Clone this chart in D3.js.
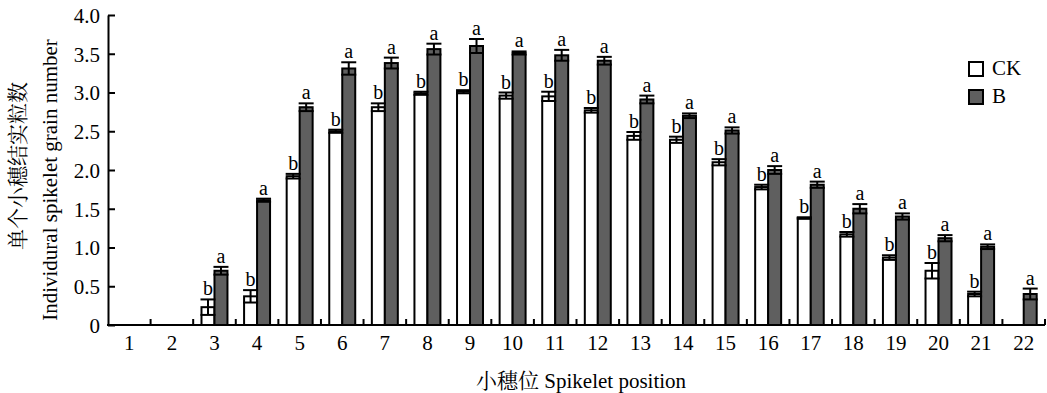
<!DOCTYPE html>
<html>
<head>
<meta charset="utf-8">
<script src="https://cdn.jsdelivr.net/npm/d3@7"></script>
<style>
  body { margin: 0; background: #fff; }
  svg text { font-family: "Liberation Serif", "Times New Roman", serif; fill: #000; }
  .cjk { font-family: "Noto Serif CJK SC", "Noto Sans CJK SC", serif; }
  .axis path, .axis line { stroke: #000; stroke-width: 2; }
</style>
</head>
<body>
<div id="chart"></div>
<script>
// data
const positions = ['1', '2', '3', '4', '5', '6', '7', '8', '9', '10', '11',
  '12', '13', '14', '15', '16', '17', '18', '19', '20', '21', '22'];
const ckMean = [0, 0, 0.23, 0.37, 1.92, 2.5, 2.81, 2.99, 3.01, 2.96, 2.95,
  2.77, 2.44, 2.39, 2.1, 1.78, 1.38, 1.17, 0.87, 0.7, 0.4, 0];
const ckErr = [0, 0, 0.1, 0.08, 0.03, 0.02, 0.05, 0.02, 0.02, 0.04, 0.06,
  0.03, 0.05, 0.04, 0.04, 0.03, 0.01, 0.03, 0.03, 0.1, 0.03, 0];
const bMean = [0, 0, 0.7, 1.61, 2.81, 3.31, 3.38, 3.56, 3.6, 3.51, 3.48,
  3.41, 2.91, 2.7, 2.51, 2.0, 1.81, 1.5, 1.4, 1.12, 1.01, 0.4];
const bErr = [0, 0, 0.05, 0.02, 0.05, 0.08, 0.07, 0.07, 0.09, 0.02, 0.07,
  0.05, 0.05, 0.03, 0.04, 0.05, 0.04, 0.06, 0.04, 0.04, 0.03, 0.07];
const ckLetters = ['', '', 'b', 'b', 'b', 'b', 'b', 'b', 'b', 'b', 'b',
  'b', 'b', 'b', 'b', 'b', 'b', 'b', 'b', 'b', 'b', ''];
const bLetters = ['', '', 'a', 'a', 'a', 'a', 'a', 'a', 'a', 'a', 'a',
  'a', 'a', 'a', 'a', 'a', 'a', 'a', 'a', 'a', 'a', 'a'];
const yTicks = [0, 0.5, 1, 1.5, 2, 2.5, 3, 3.5, 4];
const seriesNames = ['CK', 'B'];
const seriesColors = { CK: '#ffffff', B: '#5f5f5f' };

// dimensions
const WIDTH = 1047;
const HEIGHT = 393;
const PLOT_LEFT = 108;
const PLOT_RIGHT = 1045;
const PLOT_TOP = 15;
const PLOT_BOTTOM = 325;

const rows = [];
positions.forEach((p, i) => {
  rows.push({ pos: p, key: 'CK', v: ckMean[i], e: ckErr[i], letter: ckLetters[i] });
  rows.push({ pos: p, key: 'B', v: bMean[i], e: bErr[i], letter: bLetters[i] });
});
const drawn = rows.filter((d) => d.v > 0);

const $svg = d3.select('#chart').append('svg')
  .attr('width', WIDTH)
  .attr('height', HEIGHT);

// scales
const scaleX = d3.scaleBand().domain(positions).range([PLOT_LEFT, PLOT_RIGHT]);
const scaleSub = d3.scaleBand().domain(seriesNames)
  .range([0, scaleX.bandwidth()]).paddingInner(0).paddingOuter(0.64);
const scaleY = d3.scaleLinear().domain([0, 4]).range([PLOT_BOTTOM, PLOT_TOP]);

const barX = (d) => scaleX(d.pos) + scaleSub(d.key);
const barMid = (d) => barX(d) + scaleSub.bandwidth() / 2;
const CAP = 15;

// bars
$svg.append('g').selectAll('rect')
  .data(drawn)
  .join('rect')
  .attr('x', barX)
  .attr('y', (d) => scaleY(d.v))
  .attr('width', scaleSub.bandwidth())
  .attr('height', (d) => scaleY(0) - scaleY(d.v))
  .attr('fill', (d) => seriesColors[d.key])
  .attr('stroke', '#000')
  .attr('stroke-width', 2);

// error bars
const $err = $svg.append('g').attr('stroke', '#000').attr('stroke-width', 2);
$err.selectAll('.stem')
  .data(drawn)
  .join('line')
  .attr('class', 'stem')
  .attr('x1', barMid).attr('x2', barMid)
  .attr('y1', (d) => scaleY(d.v - d.e))
  .attr('y2', (d) => scaleY(d.v + d.e));
$err.selectAll('.cap-top')
  .data(drawn)
  .join('line')
  .attr('class', 'cap-top')
  .attr('x1', (d) => barMid(d) - CAP / 2).attr('x2', (d) => barMid(d) + CAP / 2)
  .attr('y1', (d) => scaleY(d.v + d.e)).attr('y2', (d) => scaleY(d.v + d.e));
$err.selectAll('.cap-bot')
  .data(drawn)
  .join('line')
  .attr('class', 'cap-bot')
  .attr('x1', (d) => barMid(d) - CAP / 2).attr('x2', (d) => barMid(d) + CAP / 2)
  .attr('y1', (d) => scaleY(d.v - d.e)).attr('y2', (d) => scaleY(d.v - d.e));

// significance letters
$svg.append('g').selectAll('text')
  .data(drawn.filter((d) => d.letter))
  .join('text')
  .attr('x', barMid)
  .attr('y', (d) => scaleY(d.v + d.e) - 4)
  .attr('text-anchor', 'middle')
  .style('font-size', '20px')
  .text((d) => d.letter);

// y axis
$svg.append('g')
  .attr('class', 'axis')
  .attr('transform', `translate(${PLOT_LEFT},0)`)
  .call(d3.axisLeft(scaleY).tickValues(yTicks)
    .tickSizeInner(-7).tickSizeOuter(0).tickPadding(8)
    .tickFormat((d) => (d === 0 ? '0' : d3.format('.1f')(d))))
  .call((g) => g.selectAll('.tick text').style('font-size', '21px').attr('dy', '0.35em'));

// x axis: labels at centers, ticks at band boundaries
$svg.append('g')
  .attr('class', 'axis')
  .attr('transform', `translate(0,${PLOT_BOTTOM})`)
  .call(d3.axisBottom(scaleX).tickSize(0).tickPadding(10))
  .call((g) => g.select('.domain').remove())
  .call((g) => g.selectAll('.tick text').style('font-size', '21px').attr('dy', '0.71em'));

const bounds = positions.map((p) => scaleX(p)).concat([scaleX(positions[positions.length - 1]) + scaleX.step()]);
$svg.append('g')
  .attr('stroke', '#000').attr('stroke-width', 2)
  .selectAll('line')
  .data(bounds.slice(1))
  .join('line')
  .attr('x1', (d) => d).attr('x2', (d) => d)
  .attr('y1', PLOT_BOTTOM).attr('y2', PLOT_BOTTOM - 6);
$svg.append('line')
  .attr('x1', PLOT_LEFT - 1).attr('x2', PLOT_RIGHT)
  .attr('y1', PLOT_BOTTOM).attr('y2', PLOT_BOTTOM)
  .attr('stroke', '#000').attr('stroke-width', 2);

// axis titles
const $yTitle = $svg.append('g').attr('transform', 'translate(0,170) rotate(-90)');
$yTitle.append('text')
  .attr('class', 'cjk')
  .attr('x', 4).attr('y', 25)
  .attr('text-anchor', 'middle')
  .style('font-size', '21px')
  .text('单个小穗结实粒数');
$yTitle.append('text')
  .attr('x', -10).attr('y', 57)
  .attr('text-anchor', 'middle')
  .style('font-size', '21px')
  .text('Individural spikelet grain number');

const $xTitle = $svg.append('text')
  .attr('x', 581).attr('y', 388)
  .attr('text-anchor', 'middle')
  .style('font-size', '21px');
$xTitle.append('tspan').attr('class', 'cjk').text('小穗位 ');
$xTitle.append('tspan').text('Spikelet position');

// legend
const $legend = $svg.append('g').attr('transform', 'translate(969,62)');
const $item = $legend.selectAll('g')
  .data(seriesNames)
  .join('g')
  .attr('transform', (d, i) => `translate(0,${i * 28})`);
$item.append('rect')
  .attr('width', 14).attr('height', 14)
  .attr('fill', (d) => seriesColors[d])
  .attr('stroke', '#000').attr('stroke-width', 2);
$item.append('text')
  .attr('x', 23).attr('y', 13)
  .style('font-size', '21px')
  .text((d) => d);
</script>
</body>
</html>
